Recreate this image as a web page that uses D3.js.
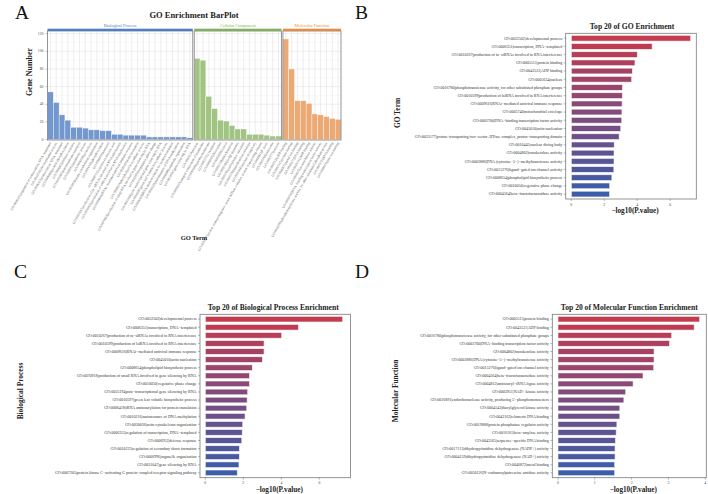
<!DOCTYPE html>
<html>
<head>
<meta charset="utf-8">
<script src="https://cdn.jsdelivr.net/npm/d3@7"></script>
<style>
  body { margin: 0; background: #fff; }
  svg { display: block; }
  text { font-family: "Liberation Serif", "Times New Roman", serif; }
</style>
</head>
<body>
<svg id="fig" width="708" height="494"></svg>
<script>
"use strict";

// ---- panel A: gene number per GO term, one list per ontology ----
const bpTerms = [
  "GO:0006355|regulation of transcription, DNA−templated",
  "GO:0032502|developmental process",
  "GO:0006351|transcription, DNA−templated",
  "GO:0006468|protein phosphorylation",
  "GO:0006952|defense response",
  "GO:0055085|transmembrane transport",
  "GO:0008152|metabolic process",
  "GO:0006508|proteolysis",
  "GO:0030036|actin cytoskeleton organization",
  "GO:0016310|phosphorylation",
  "GO:0006810|transport",
  "GO:0009737|response to abscisic acid",
  "GO:0010267|production of ta−siRNAs involved in RNA interference",
  "GO:0030422|production of siRNA involved in RNA interference",
  "GO:0009616|RNAi−mediated antiviral immune response",
  "GO:0045010|actin nucleation",
  "GO:0008654|phospholipid biosynthetic process",
  "GO:0070918|production of small RNA involved in gene silencing by RNA",
  "GO:0010050|vegetative phase change",
  "GO:0035194|post−transcriptional gene silencing by RNA",
  "GO:0010597|green leaf volatile biosynthetic process",
  "GO:0006418|tRNA aminoacylation for protein translation",
  "GO:0010216|maintenance of DNA methylation",
  "GO:0006996|organelle organization",
  "GO:0031047|gene silencing by RNA"
];
const bpCounts = [54, 42, 28, 22, 14, 14, 13, 11, 11, 10, 10, 6, 6, 5, 5, 5, 5, 3, 3, 3, 3, 3, 3, 3, 2];

const ccTerms = [
  "GO:0005634|nucleus",
  "GO:0016021|integral component of membrane",
  "GO:0005886|plasma membrane",
  "GO:0005737|cytoplasm",
  "GO:0009507|chloroplast",
  "GO:0005829|cytosol",
  "GO:0005739|mitochondrion",
  "GO:0005794|Golgi apparatus",
  "GO:0005783|endoplasmic reticulum",
  "GO:0005740|mitochondrial envelope",
  "GO:0010445|nuclear dicing body",
  "GO:0033177|proton−transporting two−sector ATPase complex, proton−transporting domain",
  "GO:0000932|P−body",
  "GO:0005768|endosome",
  "GO:0005773|vacuole"
];
const ccCounts = [92, 90, 49, 35, 22, 21, 16, 12, 12, 6, 6, 6, 5, 4, 4];

const mfTerms = [
  "GO:0005524|ATP binding",
  "GO:0005515|protein binding",
  "GO:0046872|metal ion binding",
  "GO:0003677|DNA binding",
  "GO:0043531|ADP binding",
  "GO:0004672|protein kinase activity",
  "GO:0003700|DNA−binding transcription factor activity",
  "GO:0016780|phosphotransferase activity, for other substituted phosphate groups",
  "GO:0003723|RNA binding",
  "GO:0008270|zinc ion binding"
];
const mfCounts = [114, 80, 44, 44, 41, 29, 28, 26, 24, 23];

const geneTicks = [0, 20, 40, 60, 80, 100, 120];

// ---- panel B: top 20 of all GO terms ----
const goTopTerms = [
  "GO:0032502|developmental process",
  "GO:0006351|transcription, DNA−templated",
  "GO:0010267|production of ta−siRNAs involved in RNA interference",
  "GO:0005515|protein binding",
  "GO:0043531|ADP binding",
  "GO:0005634|nucleus",
  "GO:0016780|phosphotransferase activity, for other substituted phosphate groups",
  "GO:0010599|production of lsiRNA involved in RNA interference",
  "GO:0009616|RNAi−mediated antiviral immune response",
  "GO:0005740|mitochondrial envelope",
  "GO:0003700|DNA−binding transcription factor activity",
  "GO:0045010|actin nucleation",
  "GO:0033177|proton−transporting two−sector ATPase complex, proton−transporting domain",
  "GO:0010445|nuclear dicing body",
  "GO:0004802|transketolase activity",
  "GO:0003886|DNA (cytosine−5−)−methyltransferase activity",
  "GO:0015276|ligand−gated ion channel activity",
  "GO:0008654|phospholipid biosynthetic process",
  "GO:0010050|vegetative phase change",
  "GO:0004564|beta−fructofuranosidase activity"
];
const goTopValues = [7.24, 4.9, 4.0, 3.86, 3.7, 3.66, 3.1, 3.09, 3.08, 3.07, 3.06, 3.0, 2.9, 2.6, 2.59, 2.59, 2.58, 2.46, 2.33, 2.32];

// ---- panel C: top 20 biological process ----
const bpTopTerms = [
  "GO:0032502|developmental process",
  "GO:0006351|transcription, DNA−templated",
  "GO:0010267|production of ta−siRNAs involved in RNA interference",
  "GO:0010599|production of lsiRNA involved in RNA interference",
  "GO:0009616|RNAi−mediated antiviral immune response",
  "GO:0045010|actin nucleation",
  "GO:0008654|phospholipid biosynthetic process",
  "GO:0070918|production of small RNA involved in gene silencing by RNA",
  "GO:0010050|vegetative phase change",
  "GO:0035194|post−transcriptional gene silencing by RNA",
  "GO:0010597|green leaf volatile biosynthetic process",
  "GO:0006418|tRNA aminoacylation for protein translation",
  "GO:0010216|maintenance of DNA methylation",
  "GO:0030036|actin cytoskeleton organization",
  "GO:0006355|regulation of transcription, DNA−templated",
  "GO:0006952|defense response",
  "GO:0010223|regulation of secondary shoot formation",
  "GO:0006996|organelle organization",
  "GO:0031047|gene silencing by RNA",
  "GO:0007205|protein kinase C−activating G protein−coupled receptor signaling pathway"
];
const bpTopValues = [7.23, 4.9, 4.02, 3.09, 3.09, 3.0, 2.47, 2.32, 2.32, 2.23, 2.2, 2.18, 2.09, 1.97, 1.94, 1.92, 1.79, 1.79, 1.77, 1.68];

// ---- panel D: top 20 molecular function ----
const mfTopTerms = [
  "GO:0005515|protein binding",
  "GO:0043531|ADP binding",
  "GO:0016780|phosphotransferase activity, for other substituted phosphate groups",
  "GO:0003700|DNA−binding transcription factor activity",
  "GO:0004802|transketolase activity",
  "GO:0003886|DNA (cytosine−5−)−methyltransferase activity",
  "GO:0015276|ligand−gated ion channel activity",
  "GO:0004564|beta−fructofuranosidase activity",
  "GO:0004812|aminoacyl−tRNA ligase activity",
  "GO:0003951|NAD+ kinase activity",
  "GO:0016891|endoribonuclease activity, producing 5'−phosphomonoesters",
  "GO:0004143|diacylglycerol kinase activity",
  "GO:0042162|telomeric DNA binding",
  "GO:0019888|protein phosphatase regulator activity",
  "GO:0016161|beta−amylase activity",
  "GO:0043565|sequence−specific DNA binding",
  "GO:0017113|dihydropyrimidine dehydrogenase (NADP+) activity",
  "GO:0004159|dihydropyrimidine dehydrogenase (NAD+) activity",
  "GO:0046872|metal binding",
  "GO:0050126|N−carbamoylputrescine amidase activity"
];
const mfTopValues = [3.85, 3.7, 3.09, 3.03, 2.61, 2.61, 2.6, 2.31, 2.04, 1.84, 1.79, 1.68, 1.68, 1.6, 1.58, 1.56, 1.55, 1.55, 1.54, 1.54];

const svg = d3.select("#fig");
const FONT_BOLD = 700;

// Panel letters
[["A", 15, 18.5], ["B", 355, 18.5], ["C", 14, 277.5], ["D", 355, 277.5]].forEach(([t, x, y]) => {
  svg.append("text").attr("x", x).attr("y", y)
    .attr("font-size", 19.5).attr("fill", "#111").text(t);
});

// ================= Panel A: faceted bar plot =================
function drawFacetBars() {
  const facets = [
    { name: "Biological Process", terms: bpTerms, counts: bpCounts, fill: "#7398cf", line: "#4d7ec9" },
    { name: "Cellular Component", terms: ccTerms, counts: ccCounts, fill: "#a2c483", line: "#7fb258" },
    { name: "Molecular Function", terms: mfTerms, counts: mfCounts, fill: "#eca974", line: "#e98b3f" }
  ];
  const left = 47.5, right = 341, gap = 1.5, top = 31, bottom = 140;
  const nAll = d3.sum(facets, f => f.terms.length);
  const unit = (right - left - gap * (facets.length - 1)) / nAll;
  const y = d3.scaleLinear().domain([-0.5, 123]).range([bottom, top]);

  const g = svg.append("g");

  svg.append("text").attr("x", 194).attr("y", 18)
    .attr("text-anchor", "middle").attr("font-size", 8.5).attr("font-weight", FONT_BOLD)
    .attr("fill", "#222").text("GO Enrichment BarPlot");

  let cx = left;
  facets.forEach(f => {
    const w = unit * f.terms.length;
    const x = d3.scaleBand().domain(f.terms).range([cx, cx + w]);
    const p = g.append("g");

    p.append("rect").attr("x", cx).attr("y", top).attr("width", w).attr("height", bottom - top)
      .attr("fill", "#fff");

    // grid: minor + major horizontal, vertical at each bar
    const minor = d3.range(10, 121, 20);
    p.selectAll(".hmin").data(minor).join("line")
      .attr("x1", cx).attr("x2", cx + w)
      .attr("y1", d => y(d)).attr("y2", d => y(d))
      .attr("stroke", "#f0f0f0").attr("stroke-width", 0.4);
    p.selectAll(".hmaj").data(geneTicks).join("line")
      .attr("x1", cx).attr("x2", cx + w)
      .attr("y1", d => y(d)).attr("y2", d => y(d))
      .attr("stroke", "#e3e3e3").attr("stroke-width", 0.6);
    p.selectAll(".vg").data(f.terms).join("line")
      .attr("x1", d => x(d) + x.bandwidth() / 2).attr("x2", d => x(d) + x.bandwidth() / 2)
      .attr("y1", top).attr("y2", bottom)
      .attr("stroke", "#e3e3e3").attr("stroke-width", 0.6);

    // bars
    p.selectAll(".bar").data(f.terms).join("rect")
      .attr("x", d => x(d))
      .attr("width", x.bandwidth())
      .attr("y", (d, i) => y(f.counts[i]))
      .attr("height", (d, i) => y(0) - y(f.counts[i]))
      .attr("fill", f.fill)
      .attr("stroke", "#fff").attr("stroke-width", 0.4);

    // panel border
    p.append("rect").attr("x", cx).attr("y", top).attr("width", w).attr("height", bottom - top)
      .attr("fill", "none").attr("stroke", "#8a8a8a").attr("stroke-width", 0.9);

    // strip
    p.append("rect").attr("x", cx).attr("y", top - 2.3).attr("width", w).attr("height", 2.3)
      .attr("fill", f.line);
    p.append("text").attr("x", cx + w / 2).attr("y", top - 4)
      .attr("text-anchor", "middle").attr("font-size", 4.4).attr("fill", f.line)
      .text(f.name);

    // rotated x labels
    p.selectAll(".xl").data(f.terms).join("text")
      .attr("transform", d => `translate(${x(d) + x.bandwidth() / 2 + 1},${bottom + 3}) rotate(-60)`)
      .attr("text-anchor", "end").attr("font-size", 3.4).attr("fill", "#555")
      .text(d => d);

    cx += w + gap;
  });

  // y axis
  g.selectAll(".yt").data(geneTicks).join("text")
    .attr("x", left - 4).attr("y", d => y(d) + 1.2)
    .attr("text-anchor", "end").attr("font-size", 3.8).attr("fill", "#555")
    .text(d => d);
  g.selectAll(".ytk").data(geneTicks).join("line")
    .attr("x1", left - 2).attr("x2", left).attr("y1", d => y(d)).attr("y2", d => y(d))
    .attr("stroke", "#666").attr("stroke-width", 0.4);

  svg.append("text").attr("transform", "translate(32,72) rotate(-90)")
    .attr("text-anchor", "middle").attr("font-size", 8).attr("font-weight", FONT_BOLD)
    .attr("fill", "#222").text("Gene Number");
  svg.append("text").attr("x", 194).attr("y", 240)
    .attr("text-anchor", "middle").attr("font-size", 6.5).attr("font-weight", FONT_BOLD)
    .attr("fill", "#222").text("GO Term");
}

// ================= Panels B, C, D: horizontal top-20 bars =================
function drawTopBars(cfg) {
  const { x0, x1, y0, y1, terms, values, domain, ticks } = cfg;
  const x = d3.scaleLinear().domain(domain).range([x0, x1]);
  const y = d3.scalePoint().domain(terms).range([y0, y1]).padding(0.6);
  const bh = y.step() * 0.7;
  const color = d3.scaleLinear().domain([0, terms.length - 1])
    .range(["#c43a4f", "#3b5dab"]).interpolate(d3.interpolateRgb);

  const g = svg.append("g");
  g.append("rect").attr("x", x0).attr("y", y0).attr("width", x1 - x0).attr("height", y1 - y0)
    .attr("fill", "#fff").attr("stroke", "#7a7a7a").attr("stroke-width", 0.8);

  g.selectAll(".bar").data(terms).join("rect")
    .attr("x", x(0))
    .attr("y", d => y(d) - bh / 2)
    .attr("width", (d, i) => x(values[i]) - x(0))
    .attr("height", bh)
    .attr("fill", (d, i) => color(i))
    .attr("stroke", "#f4f4f4").attr("stroke-width", 0.6);

  // y labels and ticks
  g.selectAll(".yl").data(terms).join("text")
    .attr("x", x0 - 3.5).attr("y", d => y(d) + 1.3)
    .attr("text-anchor", "end").attr("font-size", 4).attr("fill", "#333")
    .text(d => d);
  g.selectAll(".ytk").data(terms).join("line")
    .attr("x1", x0 - 2).attr("x2", x0).attr("y1", d => y(d)).attr("y2", d => y(d))
    .attr("stroke", "#555").attr("stroke-width", 0.4);

  // x ticks
  g.selectAll(".xtk").data(ticks).join("line")
    .attr("x1", d => x(d)).attr("x2", d => x(d)).attr("y1", y1).attr("y2", y1 + 2)
    .attr("stroke", "#555").attr("stroke-width", 0.4);
  g.selectAll(".xl").data(ticks).join("text")
    .attr("x", d => x(d)).attr("y", y1 + 6.5)
    .attr("text-anchor", "middle").attr("font-size", 3.8).attr("fill", "#444")
    .text(d => d);

  // titles
  svg.append("text").attr("x", (x0 + x1) / 2 + cfg.titleDx).attr("y", y0 - 4)
    .attr("text-anchor", "middle").attr("font-size", 7.6).attr("font-weight", FONT_BOLD)
    .attr("fill", "#222").text(cfg.title);
  svg.append("text").attr("x", (x0 + x1) / 2 + 4).attr("y", cfg.xTitleY)
    .attr("text-anchor", "middle").attr("font-size", 7.2).attr("font-weight", FONT_BOLD)
    .attr("fill", "#222").text("−log10(P.value)");
  svg.append("text").attr("transform", `translate(${cfg.yTitleX},${cfg.yTitleY}) rotate(-90)`)
    .attr("text-anchor", "middle").attr("font-size", 7.4).attr("font-weight", FONT_BOLD)
    .attr("fill", "#222").text(cfg.yTitle);
}

drawFacetBars();

drawTopBars({
  x0: 565.7, x1: 696.3, y0: 33.3, y1: 199,
  terms: goTopTerms, values: goTopValues,
  domain: [-0.34, 7.58], ticks: [0, 2, 4, 6],
  title: "Top 20 of GO Enrichment", titleDx: 1,
  xTitleY: 213, yTitleX: 399.5, yTitleY: 113, yTitle: "GO Term"
});

drawTopBars({
  x0: 200, x1: 350.5, y0: 314.3, y1: 477.7,
  terms: bpTopTerms, values: bpTopValues,
  domain: [-0.28, 7.64], ticks: [0, 2, 4, 6],
  title: "Top 20 of Biological Process Enrichment", titleDx: -2,
  xTitleY: 491.5, yTitleX: 22.5, yTitleY: 391, yTitle: "Biological Process"
});

drawTopBars({
  x0: 552.3, x1: 706.3, y0: 314.3, y1: 477.7,
  terms: mfTopTerms, values: mfTopValues,
  domain: [-0.155, 4.03], ticks: [0, 1, 2, 3, 4],
  title: "Top 20 of Molecular Function Enrichment", titleDx: 0,
  xTitleY: 491.5, yTitleX: 398, yTitleY: 391, yTitle: "Molecular Function"
});
</script>
</body>
</html>
